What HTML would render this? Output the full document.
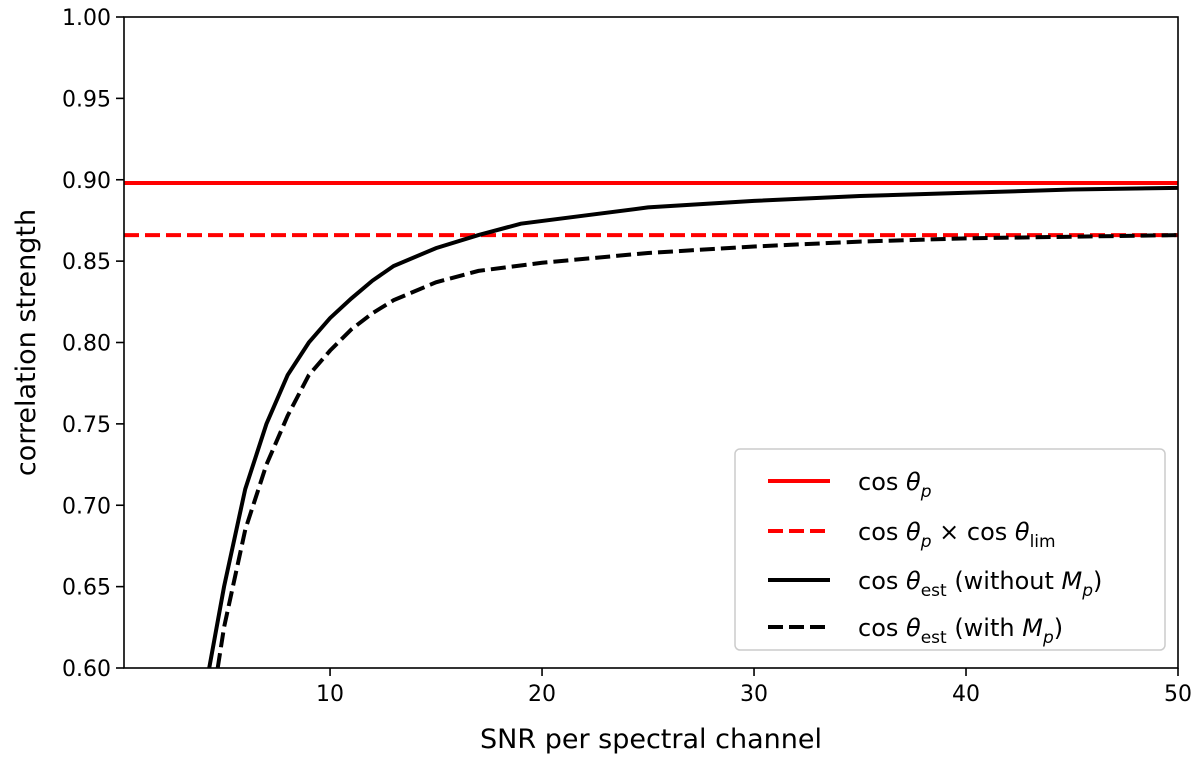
<!DOCTYPE html>
<html><head><meta charset="utf-8"><style>
html,body{margin:0;padding:0;background:#fff;}
svg{display:block;font-family:"DejaVu Sans","Liberation Sans",sans-serif;}
</style></head><body>
<svg id="chart" width="1200" height="757">
<g id="grid"></g>
<g id="marks"></g>
<g id="axes"></g>
<g id="legend"></g>
</svg>
<script>
const xTicks=[10,20,30,40,50];
const yTicks=[0.60,0.65,0.70,0.75,0.80,0.85,0.90,0.95,1.00];
const cosThetaP=0.898;
const cosThetaPLim=0.866;
const snrSolid=[4.3,5,6,7,8,9,10,11,12,13,15,17,19,22,25,30,35,40,45,50];
const estWithout=[0.60,0.65,0.71,0.75,0.78,0.80,0.815,0.827,0.838,0.847,0.858,0.866,0.873,0.878,0.883,0.887,0.890,0.892,0.894,0.895];
const snrDashed=[4.7,5,6,7,8,9,10,11,12,13,15,17,20,25,30,35,40,45,50];
const estWith=[0.60,0.625,0.685,0.725,0.755,0.78,0.795,0.808,0.818,0.826,0.837,0.844,0.849,0.855,0.859,0.862,0.864,0.865,0.866];

const L=124,R=1178,T=17,B=668,xmin=0.28,xmax=50,ymin=0.6,ymax=1.0;
const X=v=>L+(v-xmin)/(xmax-xmin)*(R-L);
const Y=v=>B-(v-ymin)/(ymax-ymin)*(B-T);
const NS='http://www.w3.org/2000/svg';
function mk(tag,attrs,parent,text){const e=document.createElementNS(NS,tag);for(const k in attrs)e.setAttribute(k,attrs[k]);if(text!==undefined)e.textContent=text;parent.appendChild(e);return e;}
const marks=document.getElementById('marks'),axes=document.getElementById('axes'),leg=document.getElementById('legend');
const defs=mk('clipPath',{id:'clip'},marks);mk('rect',{x:L,y:T,width:R-L,height:B-T},defs);
const gm=mk('g',{'clip-path':'url(#clip)'},marks);
let e;
e=mk('line',{x1:L,x2:R,y1:Y(cosThetaP),y2:Y(cosThetaP),stroke:'#ff0000','stroke-width':4},gm);


e=mk('line',{x1:L,x2:R,y1:Y(cosThetaPLim),y2:Y(cosThetaPLim),stroke:'#ff0000','stroke-width':4,'stroke-dasharray':'15 6'},gm);


e=mk('polyline',{points:snrSolid.map((s,i)=>X(s)+','+Y(estWithout[i])).join(' '),fill:'none',stroke:'#000','stroke-width':4},gm);


e=mk('polyline',{points:snrDashed.map((s,i)=>X(s)+','+Y(estWith[i])).join(' '),fill:'none',stroke:'#000','stroke-width':4,'stroke-dasharray':'15 6'},gm);


e=mk('rect',{x:L,y:T,width:R-L,height:B-T,fill:'none',stroke:'#000','stroke-width':1.6},axes);


xTicks.forEach(t=>{mk('line',{x1:X(t),x2:X(t),y1:B,y2:B+8,stroke:'#000','stroke-width':1.6},axes);
 e=mk('text',{x:X(t),y:B+33,'text-anchor':'middle','font-size':22},axes,String(t));
 
 });
yTicks.forEach(t=>{mk('line',{x1:L-8,x2:L,y1:Y(t),y2:Y(t),stroke:'#000','stroke-width':1.6},axes);
 e=mk('text',{x:L-13,y:Y(t)+8,'text-anchor':'end','font-size':22},axes,t.toFixed(2));
 
 });
e=mk('text',{x:(L+R)/2,y:748,'text-anchor':'middle','font-size':27},axes,'SNR per spectral channel');


e=mk('text',{x:0,y:0,transform:'translate(35,'+((T+B)/2)+') rotate(-90)','text-anchor':'middle','font-size':27},axes,'correlation strength');


e=mk('rect',{x:735,y:449,width:430,height:201,rx:5,fill:'#fff','fill-opacity':0.8,stroke:'#ccc','stroke-width':1.5},leg);


const items=[
 {c:'#ff0000',d:null,y:481,h:'cos <tspan font-style="italic">θ</tspan><tspan font-style="italic" font-size="17" dy="7">p</tspan>'},
 {c:'#ff0000',d:'15 6',y:531,h:'cos <tspan font-style="italic">θ</tspan><tspan font-style="italic" font-size="17" dy="7">p</tspan><tspan dy="-7"> × cos </tspan><tspan font-style="italic">θ</tspan><tspan font-size="17" dy="7">lim</tspan>'},
 {c:'#000',d:null,y:580,h:'cos <tspan font-style="italic">θ</tspan><tspan font-size="17" dy="7">est</tspan><tspan dy="-7"> (without </tspan><tspan font-style="italic">M</tspan><tspan font-style="italic" font-size="17" dy="7">p</tspan><tspan dy="-7">)</tspan>'},
 {c:'#000',d:'15 6',y:627,h:'cos <tspan font-style="italic">θ</tspan><tspan font-size="17" dy="7">est</tspan><tspan dy="-7"> (with </tspan><tspan font-style="italic">M</tspan><tspan font-style="italic" font-size="17" dy="7">p</tspan><tspan dy="-7">)</tspan>'}];
items.forEach(it=>{const l=mk('line',{x1:768,x2:830,y1:it.y,y2:it.y,stroke:it.c,'stroke-width':4},leg);
 if(it.d)l.setAttribute('stroke-dasharray',it.d);
 
 
 const t=mk('text',{x:858,y:it.y+9,'font-size':24},leg);t.innerHTML=it.h;
 
 });
</script>
</body></html>
